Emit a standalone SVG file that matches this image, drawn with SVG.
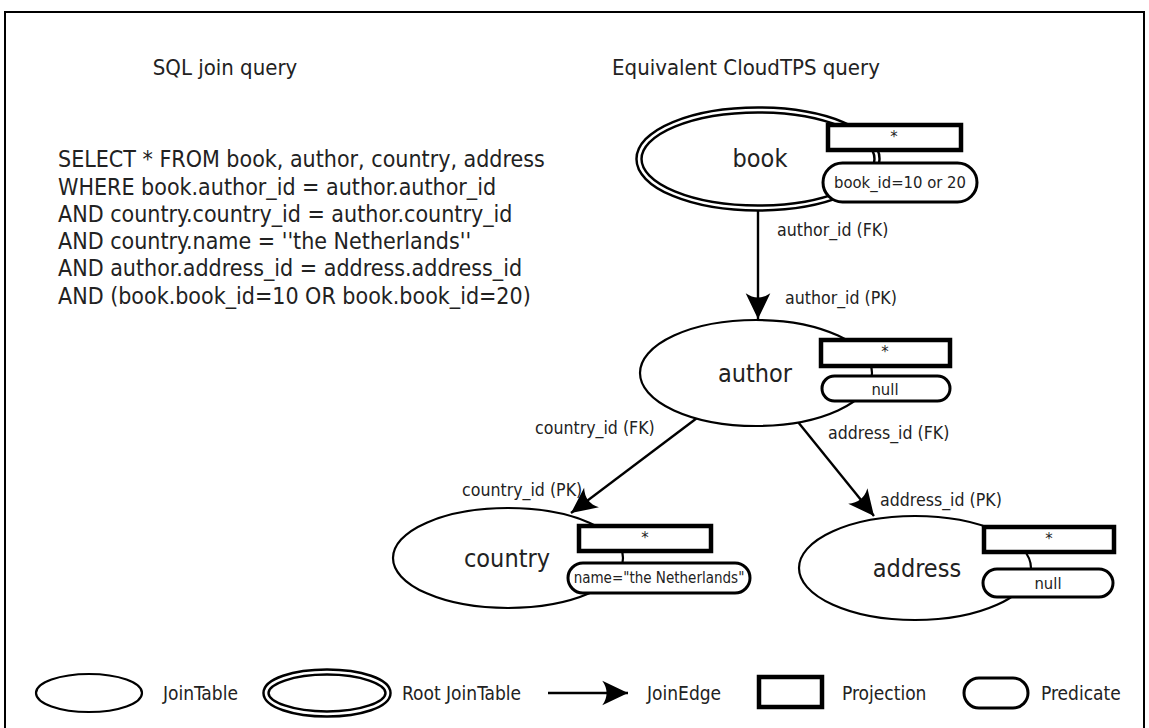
<svg xmlns="http://www.w3.org/2000/svg" width="1149" height="728" viewBox="0 0 1149 728">
<style>
.tbl{fill:#fff;stroke:#000;stroke-width:2.2}
.root1{fill:#fff;stroke:#000;stroke-width:7.5}
.root2{fill:none;stroke:#fff;stroke-width:2.6}
.proj{fill:#fff;stroke:#000;stroke-width:4.5}
.pred{fill:#fff;stroke:#000;stroke-width:3}
.edge{fill:none;stroke:#000;stroke-width:2.4}
text{font-family:"DejaVu Sans Condensed","DejaVu Sans","Liberation Sans",sans-serif;fill:#222}
.title{font-size:22px}
.sql{font-size:23px}
.name{font-size:25px;text-anchor:middle}
.lbl{font-size:17.6px}
.box{font-size:16.5px;text-anchor:middle}
.leg{font-size:19px}
</style>
<defs>
<marker id="arr" markerUnits="userSpaceOnUse" markerWidth="30" markerHeight="30" viewBox="-26 -13 28 26" refX="0" refY="0" orient="auto">
<path d="M0,0 L-24,-11.5 Q-16,0 -24,11.5 Z" fill="#000"/>
</marker>
</defs>
<rect x="0" y="0" width="1149" height="728" fill="#fff"/>
<rect x="5" y="12" width="1139" height="720" fill="none" stroke="#000" stroke-width="2"/>

<g id="titles">
<text class="title" x="225" y="75" text-anchor="middle">SQL join query</text>
<text class="title" x="746" y="75" text-anchor="middle">Equivalent CloudTPS query</text>
</g>

<g id="sql">
<text class="sql" x="58" y="167">SELECT * FROM book, author, country, address</text>
<text class="sql" x="58" y="195">WHERE book.author_id = author.author_id</text>
<text class="sql" x="58" y="222">AND country.country_id = author.country_id</text>
<text class="sql" x="58" y="249">AND country.name = ''the Netherlands''</text>
<text class="sql" x="58" y="276">AND author.address_id = address.address_id</text>
<text class="sql" x="58" y="304">AND (book.book_id=10 OR book.book_id=20)</text>
</g>

<g id="connectors">
<line class="edge" x1="758" y1="211" x2="758" y2="319" marker-end="url(#arr)"/>
<line class="edge" x1="697" y1="418" x2="571" y2="513" marker-end="url(#arr)"/>
<line class="edge" x1="798" y1="422" x2="874" y2="516" marker-end="url(#arr)"/>
<text class="lbl" x="777" y="236">author_id (FK)</text>
<text class="lbl" x="785" y="304">author_id (PK)</text>
<text class="lbl" x="535" y="434">country_id (FK)</text>
<text class="lbl" x="828" y="439">address_id (FK)</text>
<text class="lbl" x="462" y="496">country_id (PK)</text>
<text class="lbl" x="880" y="506">address_id (PK)</text>
</g>

<g id="node-book">
<ellipse class="root1" cx="758" cy="159" rx="119" ry="49"/>
<ellipse class="root2" cx="758" cy="159" rx="119" ry="49"/>
<text class="name" x="760" y="167">book</text>
<rect class="proj" x="828" y="125" width="133" height="25"/>
<text class="box" x="894" y="142">*</text>
<rect class="pred" x="823" y="163" width="154" height="39" rx="19.5"/>
<text class="box" x="900" y="188">book_id=10 or 20</text>
</g>

<g id="node-author">
<ellipse class="tbl" cx="756" cy="373" rx="116" ry="53"/>
<text class="name" x="755" y="382">author</text>
<rect class="proj" x="821" y="340" width="129" height="26"/>
<text class="box" x="885" y="357">*</text>
<rect class="pred" x="822" y="376" width="128" height="25" rx="12.5"/>
<text class="box" x="885" y="395">null</text>
</g>

<g id="node-country">
<ellipse class="tbl" cx="508" cy="558" rx="115" ry="50"/>
<text class="name" x="507" y="567">country</text>
<rect class="proj" x="579" y="526" width="132" height="25"/>
<text class="box" x="645" y="543">*</text>
<rect class="pred" x="568" y="563" width="182" height="30" rx="15"/>
<text class="box" x="659" y="583" style="font-size:15px">name="the Netherlands"</text>
</g>

<g id="node-address">
<ellipse class="tbl" cx="915" cy="568" rx="116" ry="52"/>
<text class="name" x="917" y="577">address</text>
<rect class="proj" x="984" y="527" width="130" height="25"/>
<text class="box" x="1049" y="544">*</text>
<rect class="pred" x="983" y="569" width="130" height="28" rx="14"/>
<text class="box" x="1048" y="589">null</text>
</g>

<g id="legend">
<ellipse class="tbl" cx="89" cy="693" rx="53" ry="19"/>
<text class="leg" x="163" y="700">JoinTable</text>
<ellipse class="root1" cx="327" cy="693" rx="61" ry="21"/>
<ellipse class="root2" cx="327" cy="693" rx="61" ry="21"/>
<text class="leg" x="402" y="700">Root JoinTable</text>
<line class="edge" x1="548" y1="693" x2="628" y2="693" marker-end="url(#arr)"/>
<text class="leg" x="647" y="700">JoinEdge</text>
<rect class="proj" x="759" y="677" width="63" height="30"/>
<text class="leg" x="842" y="700">Projection</text>
<rect class="pred" x="964" y="678" width="64" height="30" rx="15"/>
<text class="leg" x="1041" y="700">Predicate</text>
</g>
</svg>
